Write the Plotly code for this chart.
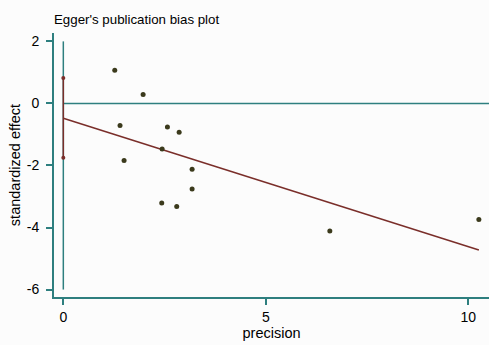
import plotly.graph_objects as go

precision = [1.27, 1.97, 1.40, 2.57, 2.86, 2.44, 1.50, 3.18, 3.18, 2.43, 2.80, 6.58, 10.26]
std_effect = [1.07, 0.29, -0.71, -0.76, -0.93, -1.47, -1.84, -2.12, -2.76, -3.21, -3.32, -4.11, -3.74]
intercept = -0.48
slope = -0.414
ci_low, ci_high = -1.75, 0.82
x_max = 10.26
y_ticks = [-6, -4, -2, 0, 2]
y_ticklabels = ["-6", "-4", "-2", "0", "2"]
x_ticks = [0, 5, 10]

teal = "#2e7f7f"
red = "#7a2e2a"
pt = "#3b3a1c"
font = "Liberation Sans, Arial, sans-serif"

fig = go.Figure()
# reference lines
fig.add_trace(go.Scatter(x=[0, 0], y=[-6, 2], mode="lines", line=dict(color=teal, width=1.5), hoverinfo="skip"))
fig.add_trace(go.Scatter(x=[0, 10.6], y=[0, 0], mode="lines", line=dict(color=teal, width=1.5), hoverinfo="skip"))
# regression line
fig.add_trace(go.Scatter(x=[0, x_max], y=[intercept, intercept + slope * x_max], mode="lines",
                         line=dict(color=red, width=1.5)))
# CI of intercept
fig.add_trace(go.Scatter(x=[0, 0], y=[ci_low, ci_high], mode="lines+markers",
                         line=dict(color=red, width=1.5), marker=dict(color=red, size=4)))
# points
fig.add_trace(go.Scatter(x=precision, y=std_effect, mode="markers",
                         marker=dict(color=pt, size=5)))

fig.update_layout(
    width=489, height=345,
    margin=dict(l=54, r=0, t=33, b=48),
    paper_bgcolor="#fcfcfc", plot_bgcolor="#fcfcfc",
    showlegend=False,
    font=dict(family=font, size=13, color="#000"),
    title=dict(text="Egger's publication bias plot", x=0, xref="paper", xanchor="left",
               y=0.945, yanchor="middle", yref="container", font=dict(size=13.3, family=font)),
)
fig.update_xaxes(range=[-0.23, 10.51], showgrid=False, zeroline=False,
                 tickvals=x_ticks, ticks="outside", ticklen=6, tickwidth=1.5, tickcolor=teal,
                 showline=True, linecolor=teal, linewidth=2,
                 title=dict(text="precision", standoff=2, font=dict(size=14.5)),
                 tickfont=dict(size=14))
fig.update_yaxes(range=[-6.24, 2.27], showgrid=False, zeroline=False,
                 tickvals=y_ticks, ticktext=y_ticklabels, ticks="outside", ticklen=6, tickwidth=1.5,
                 tickcolor=teal, ticklabelstandoff=4,
                 showline=True, linecolor=teal, linewidth=2,
                 title=dict(text="standardized effect", standoff=3, font=dict(size=14.5)),
                 tickfont=dict(size=14))

fig.write_html("out.html")
